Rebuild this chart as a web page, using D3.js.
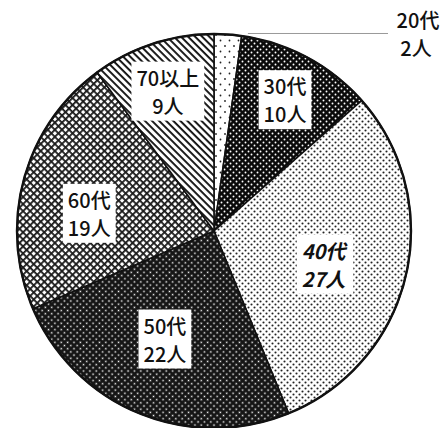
<!DOCTYPE html>
<html>
<head>
<meta charset="utf-8">
<script src="https://cdn.jsdelivr.net/npm/d3@7"></script>
<style>
  body { margin: 0; background: #fff; }
  text { font-family: "Noto Sans CJK JP", sans-serif; }
</style>
</head>
<body>
<div id="chart"></div>
<script>
// data
const categories = ["20代", "30代", "40代", "50代", "60代", "70以上"];
const counts = [2, 10, 27, 22, 19, 9];
const unitLabels = counts.map((c) => c + "人");

const width = 445;
const height = 428;
const cx = 214;
const cy = 231;
const radius = 197;

let svg = d3
  .select("#chart")
  .append("svg")
  .attr("width", width)
  .attr("height", height)
  .style("background-color", "white");

let defs = svg.append("defs");

// 20代 : sparse dots
let p20 = defs.append("pattern").attr("id", "p20").attr("patternUnits", "userSpaceOnUse")
  .attr("width", 9).attr("height", 11);
p20.append("rect").attr("width", 9).attr("height", 11).attr("fill", "white");
p20.append("circle").attr("cx", 2).attr("cy", 2).attr("r", 0.9).attr("fill", "#222");
p20.append("circle").attr("cx", 6.5).attr("cy", 7.5).attr("r", 0.9).attr("fill", "#222");

// 30代 : black with white dots
let p30 = defs.append("pattern").attr("id", "p30").attr("patternUnits", "userSpaceOnUse")
  .attr("width", 6).attr("height", 6);
p30.append("rect").attr("width", 6).attr("height", 6).attr("fill", "#0a0a0a");
p30.append("circle").attr("cx", 1.5).attr("cy", 1.5).attr("r", 0.95).attr("fill", "white");
p30.append("circle").attr("cx", 4.5).attr("cy", 4.5).attr("r", 0.95).attr("fill", "white");

// 40代 : white with black dots
let p40 = defs.append("pattern").attr("id", "p40").attr("patternUnits", "userSpaceOnUse")
  .attr("width", 6).attr("height", 6);
p40.append("rect").attr("width", 6).attr("height", 6).attr("fill", "white");
p40.append("circle").attr("cx", 1.5).attr("cy", 1.5).attr("r", 1.05).attr("fill", "#222");
p40.append("circle").attr("cx", 4.5).attr("cy", 4.5).attr("r", 1.05).attr("fill", "#222");

// 50代 : dark crosshatch
let p50 = defs.append("pattern").attr("id", "p50").attr("patternUnits", "userSpaceOnUse")
  .attr("width", 4.5).attr("height", 4.5).attr("patternTransform", "rotate(45)");
p50.append("rect").attr("width", 4.5).attr("height", 4.5).attr("fill", "#151515");
p50.append("rect").attr("x", 1.5).attr("y", 1.5).attr("width", 1.5).attr("height", 1.5).attr("fill", "white");

// 60代 : lighter crosshatch
let p60 = defs.append("pattern").attr("id", "p60").attr("patternUnits", "userSpaceOnUse")
  .attr("width", 5).attr("height", 5).attr("patternTransform", "rotate(45)");
p60.append("rect").attr("width", 5).attr("height", 5).attr("fill", "white");
p60.append("rect").attr("width", 5).attr("height", 1.8).attr("fill", "#1a1a1a");
p60.append("rect").attr("width", 1.8).attr("height", 5).attr("fill", "#1a1a1a");

// 70以上 : diagonal hatch
let p70 = defs.append("pattern").attr("id", "p70").attr("patternUnits", "userSpaceOnUse")
  .attr("width", 5).attr("height", 5).attr("patternTransform", "rotate(45)");
p70.append("rect").attr("width", 5).attr("height", 5).attr("fill", "white");
p70.append("rect").attr("width", 5).attr("height", 1.9).attr("fill", "#111");

const fills = ["url(#p20)", "url(#p30)", "url(#p40)", "url(#p50)", "url(#p60)", "url(#p70)"];

let pie = d3.pie().sort(null).value((d) => d);
let arcs = pie(counts);
let arc = d3.arc().innerRadius(0).outerRadius(radius);

let g = svg.append("g").attr("transform", "translate(" + cx + ", " + cy + ")");

g.selectAll("path")
  .data(arcs)
  .enter()
  .append("path")
  .attr("d", arc)
  .attr("fill", (d, i) => fills[i])
  .attr("stroke", "#111")
  .attr("stroke-width", 1.6);

g.append("circle")
  .attr("r", radius)
  .attr("fill", "none")
  .attr("stroke", "#111")
  .attr("stroke-width", 2.4);

// label distance from the centre, as a share of the radius
const labelShare = [0, 0.76, 0.58, 0.6, 0.64, 0.75];
const angleShift = [0, 0, 0.06, 0.04, -0.12, 0];

arcs.forEach((d, i) => {
  if (i === 0) return;
  let a = (d.startAngle + d.endAngle) / 2 + angleShift[i];
  let r = radius * labelShare[i];
  let x = Math.sin(a) * r;
  let y = -Math.cos(a) * r;
  let lg = g.append("g").attr("transform", "translate(" + x + ", " + y + ")");
  let box = lg.append("rect").attr("fill", "white");
  let t = lg
    .append("text")
    .attr("text-anchor", "middle")
    .attr("font-size", 20)
    .attr("fill", "#111")
    .style("font-style", i === 2 ? "italic" : "normal")
    .style("font-weight", i === 2 ? "bold" : 500);
  t.append("tspan").attr("x", 0).attr("y", -5).text(categories[i]);
  t.append("tspan").attr("x", 0).attr("y", 23).text(unitLabels[i]);
  let bb = t.node().getBBox();
  box
    .attr("x", bb.x - 5)
    .attr("y", bb.y - 1)
    .attr("width", bb.width + 10)
    .attr("height", bb.height + 2);
});

// outside label for the thin 20代 slice
let a0 = (arcs[0].startAngle + arcs[0].endAngle) / 2;
let lx0 = cx + Math.sin(a0) * radius;
let ly0 = cy - Math.cos(a0) * radius;
svg
  .append("line")
  .attr("x1", lx0 + 20)
  .attr("y1", ly0 - 1)
  .attr("x2", 388)
  .attr("y2", ly0 - 1)
  .attr("stroke", "#999")
  .attr("stroke-width", 1);

let t0 = svg
  .append("text")
  .attr("text-anchor", "middle")
  .attr("font-size", 20)
  .style("font-weight", 500)
  .attr("fill", "#111");
t0.append("tspan").attr("x", 418).attr("y", 28).text(categories[0]);
t0.append("tspan").attr("x", 416).attr("y", 56).text(unitLabels[0]);
</script>
</body>
</html>
